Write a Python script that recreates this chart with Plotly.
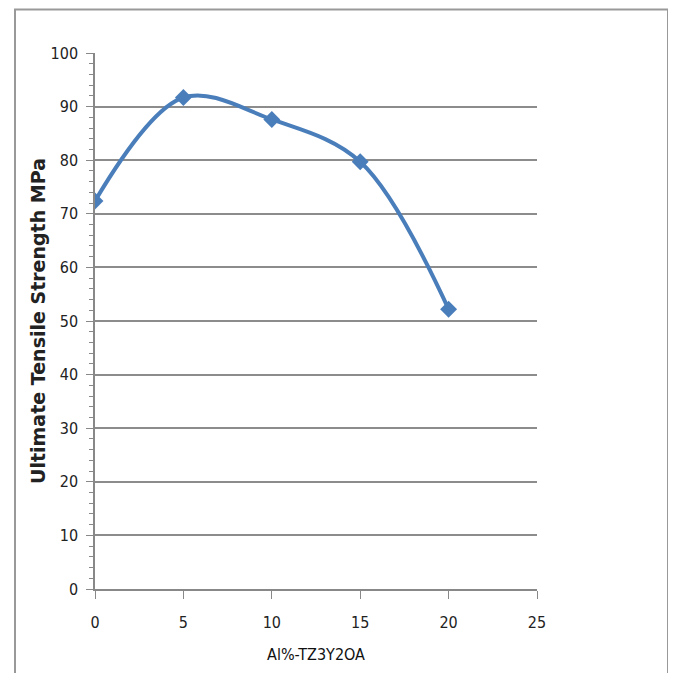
import plotly.graph_objects as go

al_pct = [0, 5, 10, 15, 20]
uts_mpa = [72.4, 91.7, 87.6, 79.7, 52.2]

x_title = "Al%-TZ3Y2OA"
y_title = "Ultimate Tensile Strength MPa"

OFF = 8  # page body margin
W, H = 676 - OFF, 673 - OFF
L, T = 95 - OFF, 53 - OFF
R = W - (537 - OFF)
B = H - (589 - OFF)
pw, ph = W - L - R, H - T - B

def px_to_paper_x(px):
    return (px - OFF - L) / pw

def px_to_paper_y(py):
    return (H - B - (py - OFF)) / ph

fig = go.Figure()
fig.add_trace(go.Scatter(
    x=al_pct, y=uts_mpa,
    mode="lines+markers",
    line=dict(color="#4A7EBB", width=4, shape="spline", smoothing=1.0),
    marker=dict(symbol="diamond", size=13, color="#4A7EBB"),
    showlegend=False,
))

cond = "DejaVu Sans Condensed, Liberation Sans Narrow, sans-serif"
tick_font = dict(family=cond, size=16, color="#222")

fig.update_layout(
    width=W, height=H,
    margin=dict(l=L, r=R, t=T, b=B),
    paper_bgcolor="white", plot_bgcolor="white",
    xaxis=dict(
        range=[0, 25], dtick=5, tick0=0,
        showgrid=False, zeroline=False,
        showline=True, linecolor="#888888", linewidth=2,
        ticks="outside", ticklen=8, tickcolor="#888888", tickwidth=1,
        tickfont=tick_font, ticklabelstandoff=10,
        title=dict(text=x_title, font=dict(family=cond, size=16, color="#111"), standoff=18),
    ),
    yaxis=dict(
        range=[0, 100], dtick=10, tick0=0,
        showgrid=True, gridcolor="#8c8c8c", gridwidth=1.5,
        zeroline=False,
        showline=True, linecolor="#888888", linewidth=1.5,
        ticks="outside", ticklen=7, tickcolor="#888888", tickwidth=1,
        tickfont=tick_font, ticklabelstandoff=5,
        minor=dict(dtick=2, ticks="outside", ticklen=4, tickcolor="#888888", showgrid=False),
        title=dict(text=y_title, font=dict(family="DejaVu Sans", size=19, color="#222", weight="bold"), standoff=0),
    ),
    shapes=[dict(
        type="rect", xref="paper", yref="paper",
        x0=px_to_paper_x(15), x1=px_to_paper_x(668),
        y0=px_to_paper_y(720), y1=px_to_paper_y(OFF + 1.5),
        line=dict(color="#999999", width=2), fillcolor="rgba(0,0,0,0)", layer="below",
    )],
)

fig.write_html("out.html")
